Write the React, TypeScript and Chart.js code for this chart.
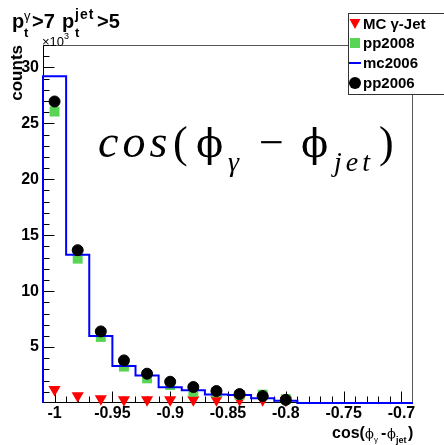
import { useEffect, useRef } from "react";
import { Chart, registerables } from "chart.js";

Chart.register(...registerables);

// cos(phi_gamma - phi_jet) bins, width 0.02, centred on these values
const binCenters = [-1.0, -0.98, -0.96, -0.94, -0.92, -0.9, -0.88, -0.86, -0.84, -0.82, -0.8, -0.78, -0.76, -0.74, -0.72, -0.7];
const binWidth = 0.02;

// counts in units of 10^3
const mc2006 = [29.2, 13.25, 5.98, 3.3, 2.45, 1.4, 1.15, 0.75, 0.72, 0.42, 0.2, 0, 0, 0, 0, 0];
const pp2006 = [26.95, 13.66, 6.4, 3.81, 2.62, 1.9, 1.43, 1.07, 0.8, 0.62, 0.28];
const pp2008 = [26.05, 12.9, 5.9, 3.25, 2.2, 1.6, 1.0, 0.95, 0.72, 0.75, 0.35];
const mcGammaJet = [1.2, 0.65, 0.38, 0.3, 0.3, 0.3, 0.3, 0.3, 0.3, 0.3, 0.25];

const xTickLabels = [-1, -0.95, -0.9, -0.85, -0.8, -0.75, -0.7];
const yTickLabels = [5, 10, 15, 20, 25, 30];

const SANS = '"Liberation Sans", Arial, Helvetica, sans-serif';
const SERIF = '"Liberation Serif", "Times New Roman", serif';
const SYMBOL = '"DejaVu Serif", serif';

const RED = "#ff0000";
const GREEN = "#59d454";
const BLUE = "#0000ff";
const BLACK = "#000000";

type Piece = { t: string; font: string; x: number; y: number; spacing?: string };

function drawPieces(ctx: CanvasRenderingContext2D, pieces: Piece[]) {
  ctx.save();
  ctx.fillStyle = "#000";
  ctx.textAlign = "left";
  ctx.textBaseline = "alphabetic";
  for (const p of pieces) {
    ctx.font = p.font;
    (ctx as any).letterSpacing = p.spacing || "0px";
    ctx.fillText(p.t, p.x, p.y);
  }
  ctx.restore();
}

function marker(ctx: CanvasRenderingContext2D, kind: string, x: number, y: number) {
  ctx.save();
  if (kind === "tri") {
    ctx.fillStyle = RED;
    ctx.beginPath();
    ctx.moveTo(x - 5.5, y - 5);
    ctx.lineTo(x + 5.5, y - 5);
    ctx.lineTo(x, y + 5);
    ctx.closePath();
    ctx.fill();
  } else if (kind === "sq") {
    ctx.fillStyle = GREEN;
    ctx.fillRect(x - 5, y - 5, 10, 10);
  } else if (kind === "line") {
    ctx.strokeStyle = BLUE;
    ctx.lineWidth = 2;
    ctx.beginPath();
    ctx.moveTo(x - 6, y);
    ctx.lineTo(x + 6, y);
    ctx.stroke();
  } else {
    ctx.fillStyle = BLACK;
    ctx.beginPath();
    ctx.arc(x, y, 6, 0, Math.PI * 2);
    ctx.fill();
  }
  ctx.restore();
}

const axesPlugin = {
  id: "rootAxes",
  beforeDatasetsDraw(chart: any) {
    const { ctx, chartArea, scales } = chart;
    const xs = scales.x;
    const ys = scales.y;
    const L = chartArea.left + 0.5;
    const R = chartArea.right - 0.5;
    const T = chartArea.top + 0.5;
    const B = Math.round(chartArea.bottom) - 0.5;
    ctx.save();
    // frame
    ctx.strokeStyle = "#555";
    ctx.lineWidth = 1;
    ctx.beginPath();
    ctx.moveTo(L, T);
    ctx.lineTo(R, T);
    ctx.lineTo(R, B);
    ctx.stroke();
    // axes
    ctx.strokeStyle = "#000";
    ctx.beginPath();
    ctx.moveTo(L, T);
    ctx.lineTo(L, B);
    ctx.lineTo(R, B);
    ctx.stroke();
    // x ticks: minor every 0.01, major every 0.05
    ctx.beginPath();
    for (let k = -100; k <= -70; k++) {
      const px = Math.round(xs.getPixelForValue(k / 100)) + 0.5;
      const len = k % 5 === 0 ? 11 : 6;
      ctx.moveTo(px, B);
      ctx.lineTo(px, B - len);
    }
    // y ticks: minor every 1, major every 5
    for (let k = 1; k <= 32; k++) {
      const py = Math.round(ys.getPixelForValue(k)) + 0.5;
      const len = k % 5 === 0 ? 11 : 6;
      ctx.moveTo(L, py);
      ctx.lineTo(L + len, py);
    }
    ctx.stroke();
    ctx.restore();
  },
  afterDraw(chart: any) {
    const { ctx, chartArea, scales } = chart;
    const xs = scales.x;
    const ys = scales.y;
    ctx.save();
    ctx.fillStyle = "#000";
    ctx.font = `bold 16px ${SANS}`;
    // x tick labels
    ctx.textAlign = "center";
    ctx.textBaseline = "middle";
    for (const v of xTickLabels) {
      ctx.fillText(String(v), xs.getPixelForValue(v), 414);
    }
    // y tick labels
    ctx.textAlign = "right";
    for (const v of yTickLabels) {
      ctx.fillText(String(v), chartArea.left - 4, ys.getPixelForValue(v));
    }
    // y title
    ctx.save();
    ctx.translate(22, chartArea.top);
    ctx.rotate(-Math.PI / 2);
    ctx.textAlign = "right";
    ctx.textBaseline = "alphabetic";
    ctx.font = `bold 17px ${SANS}`;
    ctx.fillText("counts", 0, 0);
    ctx.restore();
    ctx.restore();

    // x title: cos(ϕγ -ϕjet)
    drawPieces(ctx, [
      { t: "cos(", font: `bold 16px ${SANS}`, x: 332, y: 438 },
      { t: "ϕ", font: `13px ${SYMBOL}`, x: 365, y: 438 },
      { t: "γ", font: `8px ${SANS}`, x: 374, y: 442 },
      { t: "-", font: `bold 16px ${SANS}`, x: 381, y: 438 },
      { t: "ϕ", font: `13px ${SYMBOL}`, x: 387, y: 438 },
      { t: "jet", font: `bold 9px ${SANS}`, x: 396, y: 443 },
      { t: ")", font: `bold 16px ${SANS}`, x: 408, y: 438 },
    ]);

    // title
    drawPieces(ctx, [
      { t: "p", font: `bold 20px ${SANS}`, x: 12, y: 28 },
      { t: "γ", font: `13px ${SANS}`, x: 24, y: 20 },
      { t: "t", font: `bold 13px ${SANS}`, x: 24, y: 37 },
      { t: ">7", font: `bold 20px ${SANS}`, x: 32, y: 28 },
      { t: "p", font: `bold 20px ${SANS}`, x: 62, y: 28 },
      { t: "jet", font: `bold 14px ${SANS}`, x: 75, y: 19, spacing: "1px" },
      { t: "t", font: `bold 13px ${SANS}`, x: 75, y: 37 },
      { t: ">5", font: `bold 20px ${SANS}`, x: 97, y: 28 },
    ]);
    // exponent label
    drawPieces(ctx, [
      { t: "×10", font: `13px ${SANS}`, x: 42, y: 46 },
      { t: "3", font: `9px ${SANS}`, x: 64, y: 39 },
    ]);

    // formula
    drawPieces(ctx, [
      { t: "cos", font: `italic 46px ${SERIF}`, x: 98, y: 157, spacing: "4px" },
      { t: "(", font: `44px ${SERIF}`, x: 173, y: 157 },
      { t: "ϕ", font: `40px ${SYMBOL}`, x: 196, y: 157 },
      { t: "γ", font: `italic 28px ${SERIF}`, x: 228, y: 171 },
      { t: "−", font: `44px ${SERIF}`, x: 259, y: 157 },
      { t: "ϕ", font: `40px ${SYMBOL}`, x: 301, y: 157 },
      { t: "jet", font: `italic 28px ${SERIF}`, x: 334, y: 171, spacing: "4px" },
      { t: ")", font: `44px ${SERIF}`, x: 379, y: 157 },
    ]);

    // legend
    ctx.save();
    ctx.fillStyle = "#fff";
    ctx.fillRect(348, 13, 100, 81);
    ctx.strokeStyle = "#333";
    ctx.lineWidth = 1;
    ctx.strokeRect(348.5, 13.5, 100, 81);
    ctx.fillStyle = "#000";
    ctx.textAlign = "left";
    ctx.textBaseline = "middle";
    const rows: [string, string, number][] = [
      ["tri", "MC γ-Jet", 24],
      ["sq", "pp2008", 43],
      ["line", "mc2006", 63],
      ["dot", "pp2006", 83],
    ];
    for (const [kind, label, y] of rows) {
      marker(ctx, kind, 355, y);
      ctx.font = `bold 15px ${SANS}`;
      ctx.fillText(label, 363, y + 1);
    }
    ctx.restore();
  },
};

export default function App() {
  const ref = useRef<HTMLCanvasElement | null>(null);

  useEffect(() => {
    if (!ref.current) return;
    const hist: { x: number; y: number }[] = [{ x: binCenters[0] - binWidth / 2, y: 0 }];
    binCenters.forEach((c, i) => {
      hist.push({ x: c - binWidth / 2, y: mc2006[i] }, { x: c + binWidth / 2, y: mc2006[i] });
    });
    const pts = (vals: number[]) => vals.map((v, i) => ({ x: binCenters[i], y: v }));

    const chart = new Chart(ref.current, {
      type: "scatter",
      data: {
        datasets: [
          {
            label: "pp2006",
            data: pts(pp2006),
            pointStyle: "circle",
            pointRadius: 5.5,
            pointBorderWidth: 1,
            backgroundColor: BLACK,
            borderColor: BLACK,
            order: 0,
            clip: false,
          },
          {
            label: "mc2006",
            data: hist,
            showLine: true,
            borderColor: BLUE,
            borderWidth: 2,
            pointRadius: 0,
            tension: 0,
            order: 1,
            clip: false,
          } as any,
          {
            label: "pp2008",
            data: pts(pp2008),
            pointStyle: "rect",
            pointRadius: 7,
            pointBorderWidth: 0,
            backgroundColor: GREEN,
            borderColor: GREEN,
            order: 2,
            clip: false,
          },
          {
            label: "MC γ-Jet",
            data: pts(mcGammaJet),
            pointStyle: "triangle",
            rotation: 180,
            pointRadius: 7,
            pointBorderWidth: 0,
            backgroundColor: RED,
            borderColor: RED,
            order: 3,
            clip: false,
          } as any,
        ],
      },
      options: {
        animation: false,
        responsive: false,
        devicePixelRatio: 1,
        layout: { padding: { left: 43, right: 31, top: 45, bottom: 42 } },
        plugins: { legend: { display: false }, tooltip: { enabled: false } },
        scales: {
          x: { type: "linear", min: -1.01, max: -0.69, display: false },
          y: { type: "linear", min: 0, max: 32, display: false },
        },
      },
      plugins: [axesPlugin],
    });
    return () => chart.destroy();
  }, []);

  return (
    <div style={{ position: "fixed", left: 0, top: 0, width: 444, height: 445, background: "#fff" }}>
      <canvas ref={ref} width={444} height={445} />
    </div>
  );
}
